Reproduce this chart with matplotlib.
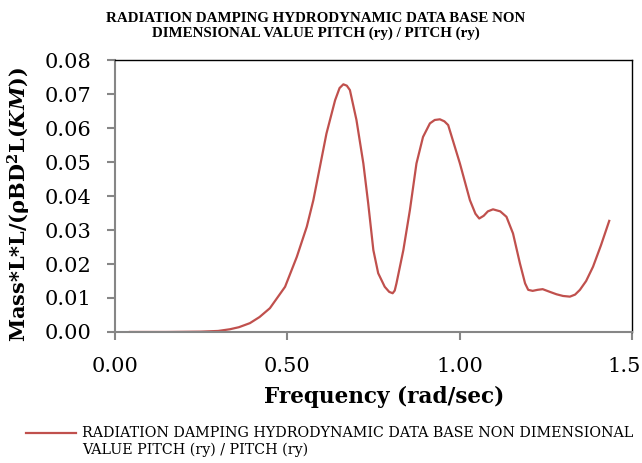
import matplotlib
matplotlib.use('Agg')
import matplotlib.pyplot as plt
from matplotlib.transforms import ScaledTranslation

matplotlib.rcParams['font.family'] = ['DejaVu Serif']
matplotlib.rcParams['mathtext.fontset'] = 'custom'
matplotlib.rcParams['mathtext.rm'] = 'DejaVu Serif'
matplotlib.rcParams['mathtext.it'] = 'DejaVu Serif:italic:bold'
matplotlib.rcParams['mathtext.bf'] = 'DejaVu Serif:bold'

# 数据
freq = [0.044, 0.15, 0.25, 0.30, 0.334, 0.36, 0.392, 0.42, 0.450, 0.494,
        0.528, 0.557, 0.576, 0.595, 0.614, 0.639, 0.652, 0.663, 0.673, 0.682,
        0.701, 0.721, 0.735, 0.750, 0.764, 0.783, 0.796, 0.806, 0.812, 0.817,
        0.837, 0.856, 0.875, 0.894, 0.914, 0.928, 0.943, 0.956, 0.967, 1.001,
        1.030, 1.046, 1.057, 1.070, 1.082, 1.097, 1.118, 1.136, 1.155, 1.175,
        1.190, 1.199, 1.212, 1.226, 1.241, 1.262, 1.281, 1.300, 1.320, 1.335,
        1.349, 1.367, 1.387, 1.410, 1.434]
damping = [0.0, 0.0, 0.0001, 0.0003, 0.0008, 0.0014, 0.0026, 0.0044, 0.0070, 0.0133,
           0.0221, 0.0310, 0.0388, 0.0486, 0.0584, 0.0682, 0.0718, 0.0729, 0.0725, 0.0712,
           0.0624, 0.0496, 0.0379, 0.0241, 0.0173, 0.0133, 0.0118, 0.0114, 0.0122, 0.0143,
           0.0241, 0.0359, 0.0496, 0.0574, 0.0614, 0.0624, 0.0626, 0.0620, 0.0609, 0.0496,
           0.0388, 0.0348, 0.0334, 0.0342, 0.0355, 0.0361, 0.0355, 0.0339, 0.0290, 0.0202,
           0.0143, 0.0124, 0.0121, 0.0124, 0.0126, 0.0118, 0.0111, 0.0106, 0.0104, 0.0110,
           0.0124, 0.0150, 0.0192, 0.0255, 0.0327]
x_ticks = [0.0, 0.5, 1.0, 1.5]
x_labels = ['0.00', '0.50', '1.00', '1.5']
y_ticks = [0.0, 0.01, 0.02, 0.03, 0.04, 0.05, 0.06, 0.07, 0.08]

title = 'RADIATION DAMPING HYDRODYNAMIC DATA BASE NON\nDIMENSIONAL VALUE PITCH (ry) / PITCH (ry)'
legend_text = ('RADIATION DAMPING HYDRODYNAMIC DATA BASE NON DIMENSIONAL\n'
               'VALUE PITCH (ry) / PITCH (ry)')

fig = plt.figure(figsize=(6.42, 4.63), dpi=100)
ax = fig.add_axes([0.1787, 0.283, 0.8057, 0.587])
ax.plot(freq, damping, color='#C0504D', linewidth=1.6, solid_joinstyle='round')

ax.set_xlim(0, 1.5)
ax.set_ylim(0, 0.08)
ax.set_xticks(x_ticks)
ax.set_xticklabels(x_labels)
ax.set_yticks(y_ticks)
ax.set_yticklabels([f'{v:.2f}' for v in y_ticks])
ax.tick_params(axis='both', labelsize=15, color='#868686', length=6, width=1.5,
               direction='out', labelcolor='black')
ax.tick_params(axis='y', pad=11)
ax.tick_params(axis='x', pad=12)
# 最后一个刻度标签贴着右边缘
last = ax.get_xticklabels()[-1]
last.set_ha('right')
last.set_transform(last.get_transform() + ScaledTranslation(0.09, 0, fig.dpi_scale_trans))

for s in ['left', 'bottom']:
    ax.spines[s].set_color('#868686')
    ax.spines[s].set_linewidth(1.5)
for s in ['top', 'right']:
    ax.spines[s].set_color('black')
    ax.spines[s].set_linewidth(1.0)

ax.set_xlabel('Frequency (rad/sec)', fontsize=15.5, fontweight='bold')
ax.xaxis.set_label_coords(0.52, -0.2)
ax.set_ylabel(r'Mass*L*L/(ρBD$^\mathbf{2}$L($KM$))', fontsize=15, fontweight='bold')
ax.yaxis.set_label_coords(-0.158, 0.467)

fig.text(0.492, 0.944, title, ha='center', va='center', fontsize=10.8, fontweight='bold',
         family='Liberation Serif', linespacing=1.2)

fig.add_artist(plt.Line2D([26 / 642, 76 / 642], [1 - 433 / 463, 1 - 433 / 463],
                          color='#C0504D', linewidth=1.6))
fig.text(82 / 642, 1 - 441.5 / 463, legend_text, ha='left', va='center', fontsize=10.3,
         linespacing=1.15)

plt.savefig('out.png', dpi=100)
